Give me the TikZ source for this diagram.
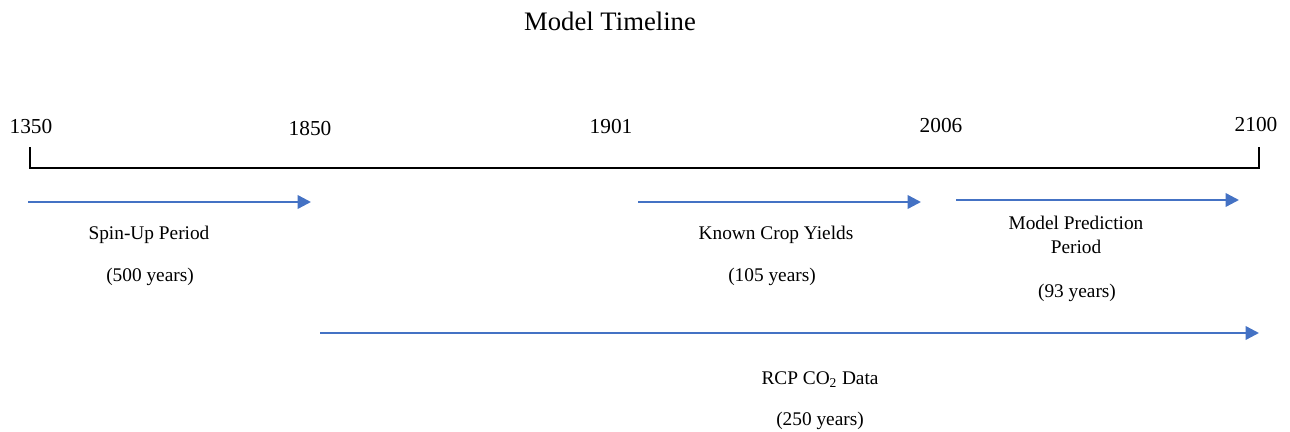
\documentclass[tikz,border=0pt]{standalone}
\usepackage{fontspec}
\setmainfont{Liberation Serif}
\usetikzlibrary{arrows.meta}
\definecolor{arrblue}{HTML}{4472C4}
\begin{document}
\begin{tikzpicture}[x=0.75pt,y=-0.75pt,
  yearlbl/.style={font=\fontsize{16}{18}\selectfont, inner sep=0pt},
  lbl/.style={font=\fontsize{14.5}{18}\selectfont, inner sep=0pt, align=center},
  period/.style={draw=arrblue, line width=1.8pt, -{Triangle[length=10pt,width=10pt]}},
  axis/.style={draw=black, line width=2.2pt}]
\useasboundingbox (0,0) rectangle (1290,432);
\node[font=\fontsize{20}{22}\selectfont, inner sep=0pt] (title) at (610,21) {Model Timeline};
% axis
\coordinate (a0top) at (30,148);
\coordinate (a0) at (30,168);
\coordinate (a1) at (1259,168);
\coordinate (a1top) at (1259,148);
\draw[axis, line cap=rect] (a0top) -- (a0) -- (a1) -- (a1top);
% year labels
\node[yearlbl] (y1350) at (31,127) {1350};
\node[yearlbl] (y1850) at (310,129) {1850};
\node[yearlbl] (y1901) at (611,127) {1901};
\node[yearlbl] (y2006) at (941,126) {2006};
\node[yearlbl] (y2100) at (1256,125) {2100};
% arrows
\coordinate (s0) at (28,202); \coordinate (s1) at (311,202);
\coordinate (k0) at (638,202); \coordinate (k1) at (921,202);
\coordinate (m0) at (956,200); \coordinate (m1) at (1239,200);
\coordinate (r0) at (320,333); \coordinate (r1) at (1259,333);
\draw[period] (s0) -- (s1);
\draw[period] (k0) -- (k1);
\draw[period] (m0) -- (m1);
\draw[period] (r0) -- (r1);
% labels
\node[lbl] (spin) at (149,235) {Spin-Up Period};
\node[lbl] (spinyr) at (150,277) {(500 years)};
\node[lbl] (known) at (776,235) {Known Crop Yields};
\node[lbl] (knownyr) at (772,277) {(105 years)};
\node[lbl] (model) at (1076,235) {Model Prediction\\Period};
\node[lbl] (modelyr) at (1077,293) {(93 years)};
\node[lbl] (rcp) at (820,380) {RCP CO\textsubscript{2} Data};
\node[lbl] (rcpyr) at (820,421) {(250 years)};
\end{tikzpicture}
\end{document}
